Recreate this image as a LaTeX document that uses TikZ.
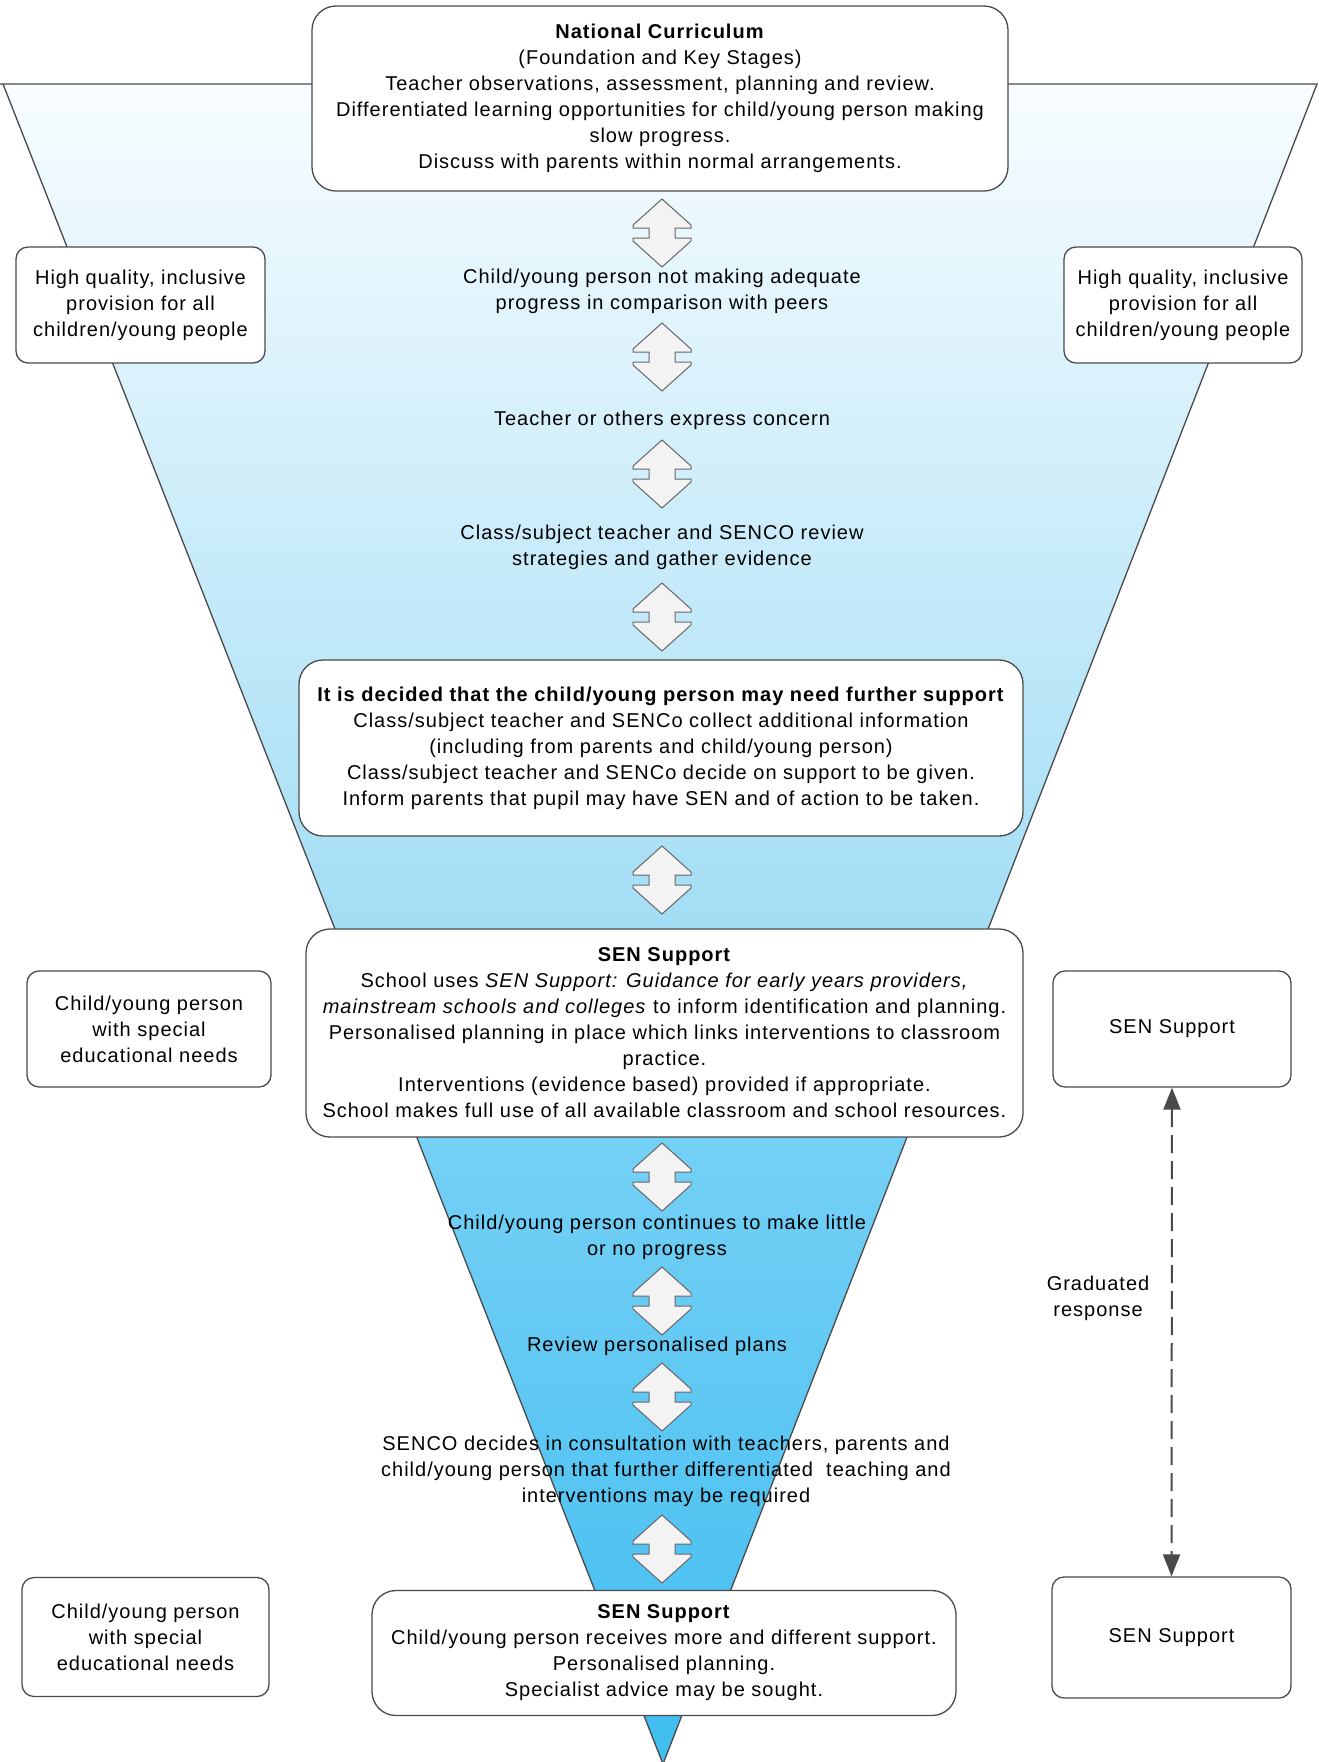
\documentclass[tikz,border=0pt]{standalone}
\usepackage{fontspec}
\usepackage{graphicx}
\setmainfont{Liberation Sans}[LetterSpace=5]
\usetikzlibrary{arrows.meta}
\definecolor{bordercol}{HTML}{4A4A4A}
\definecolor{upA}{HTML}{F8FDFF}
\definecolor{upB}{HTML}{A2DDF5}
\definecolor{loA}{HTML}{86D6F7}
\definecolor{loB}{HTML}{40BDF0}
\definecolor{arrfill}{HTML}{F3F3F3}
\definecolor{arrline}{HTML}{666666}
\begin{document}
\begin{tikzpicture}[x=1pt,y=-1pt,
  every node/.style={font=\fontsize{20}{26}\selectfont, text=black},
  bigbox/.style={draw=bordercol, line width=1.3pt, rounded corners=24pt, fill=white, align=center, inner sep=0pt},
  sidebox/.style={draw=bordercol, line width=1.3pt, rounded corners=12pt, fill=white, align=center, inner sep=0pt},
  lbl/.style={align=center, inner sep=0pt},
  dbl/.pic={\filldraw[fill=arrfill, draw=arrline, line width=1pt, line join=miter]
     (0,-34) -- (29,-8) -- (29,-5) -- (13,-5) -- (13,5) -- (29,5) -- (29,8) -- (0,34)
     -- (-29,8) -- (-29,5) -- (-13,5) -- (-13,-5) -- (-29,-5) -- (-29,-8) -- cycle;}
]
\useasboundingbox (0,0) rectangle (1319,1762);
\fill[white] (0,0) rectangle (1319,1762);
% funnel
\coordinate (fl) at (3,84);
\coordinate (fr) at (1317,84);
\coordinate (fb) at (663,1764);
\begin{scope}
  \clip (fl) -- (fr) -- (fb) -- cycle;
  \shade[top color=upA, bottom color=upB] (0,84) rectangle (1319,935);
  \shade[top color=loA, bottom color=loB] (0,935) rectangle (1319,1764);
\end{scope}
\draw[bordercol, line width=1.3pt, line join=miter] (0,84) -- (fr) -- (fb) -- (fl);

% double arrows
\pic (a1) at (662,233) {dbl};
\pic (a2) at (662,357) {dbl};
\pic (a3) at (662,474) {dbl};
\pic (a4) at (662,617) {dbl};
\pic (a5) at (662,880) {dbl};
\pic (a6) at (662,1177) {dbl};
\pic (a7) at (662,1301) {dbl};
\pic (a8) at (662,1397) {dbl};
\pic (a9) at (662,1549) {dbl};

% central boxes
\node[bigbox, minimum width=696pt, minimum height=185pt] (nc) at (660,98.5)
  {\textbf{National Curriculum}\\(Foundation and Key Stages)\\Teacher observations, assessment, planning and review.\\Differentiated learning opportunities for child/young person making\\slow progress.\\Discuss with parents within normal arrangements.};
\node[bigbox, minimum width=724pt, minimum height=176pt] (dec) at (661,748)
  {\textbf{It is decided that the child/young person may need further support}\\Class/subject teacher and SENCo collect additional information\\(including from parents and child/young person)\\Class/subject teacher and SENCo decide on support to be given.\\Inform parents that pupil may have SEN and of action to be taken.};
\node[bigbox, minimum width=717pt, minimum height=208pt] (sen1) at (664.5,1033)
  {\textbf{SEN Support}\\School uses \textit{SEN Support: Guidance for early years providers,}\\\textit{mainstream schools and colleges} to inform identification and planning.\\Personalised planning in place which links interventions to classroom\\practice.\\Interventions (evidence based) provided if appropriate.\\School makes full use of all available classroom and school resources.};
\node[bigbox, minimum width=584pt, minimum height=125pt] (sen2) at (664,1653)
  {\textbf{SEN Support}\\Child/young person receives more and different support.\\Personalised planning.\\Specialist advice may be sought.};

% labels between arrows
\node[lbl] (t1) at (662,291) {Child/young person not making adequate\\progress in comparison with peers};
\node[lbl] (t2) at (662,420) {Teacher or others express concern};
\node[lbl] (t3) at (662,547) {Class/subject teacher and SENCO review\\strategies and gather evidence};
\node[lbl] (t4) at (657,1237) {Child/young person continues to make little\\or no progress};
\node[lbl] (t5) at (657,1346) {Review personalised plans};
\node[lbl] (t6) at (666,1471) {SENCO decides in consultation with teachers, parents and\\child/young person that further differentiated\ \ teaching and\\interventions may be required};

% side boxes
\node[sidebox, minimum width=249pt, minimum height=116pt] (hq1) at (140.5,305) {High quality, inclusive\\provision for all\\children/young people};
\node[sidebox, minimum width=238pt, minimum height=116pt] (hq2) at (1183,305) {High quality, inclusive\\provision for all\\children/young people};
\node[sidebox, minimum width=244pt, minimum height=116pt] (cy1) at (149,1029) {Child/young person\\with special\\educational needs};
\node[sidebox, minimum width=238pt, minimum height=116pt] (ss1) at (1172,1029) {SEN Support};
\node[sidebox, minimum width=247pt, minimum height=119pt] (cy2) at (145.5,1637) {Child/young person\\with special\\educational needs};
\node[sidebox, minimum width=239pt, minimum height=121pt] (ss2) at (1171.5,1637.5) {SEN Support};

% graduated response
\draw[bordercol, line width=2pt, dash pattern=on 18pt off 8pt,
  {Triangle[length=22pt,width=17pt]}-{Triangle[length=22pt,width=17pt]}] (ss1.south) -- (ss2.north);
\node[lbl] (gr) at (1098,1298) {Graduated\\response};
\end{tikzpicture}
\end{document}
